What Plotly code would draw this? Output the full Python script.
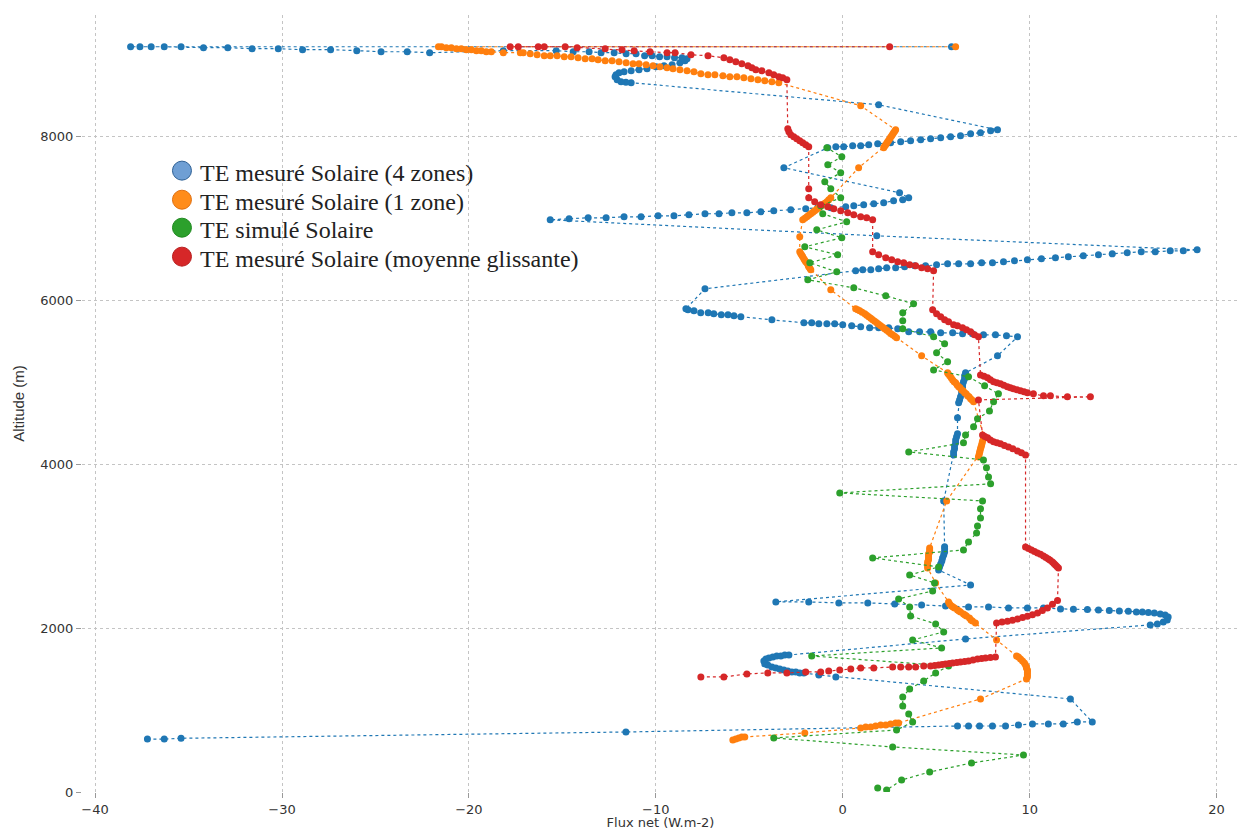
import plotly.graph_objects as go

# ---------------- data (flux W.m-2, altitude m) ----------------
blue_flux = [-37.2, -36.3, -35.4, -11.6, 6.14, 6.73, 7.32, 8.01, 8.71, 9.40, 10.15, 11.0, 11.8, 12.55, 13.35, 12.18, -0.37, -1.28,
             -2.08, -2.30, -2.51, -2.72, -2.94, -3.15, -3.37, -3.58, -3.79, -4.01, -4.17, -4.22, -4.11, -3.95, -3.74, -3.53, -3.31, -3.10, -2.88,
             6.57,
             16.45, 16.83, 17.15, 17.36, 17.41, 17.25, 16.99, 16.67, 16.35, 16.03, 15.71, 15.28, 14.8, 14.26, 13.68, 13.09, 12.34, 11.65, 10.74,
             9.88, 8.87, 7.8, 6.73, 5.5, 4.22, 2.78, 1.34, -0.21, -1.82, -3.58,
             6.84,
             5.13, 5.18, 5.24, 5.3, 5.34, 5.4, 5.45, 5.45, 5.45,
             5.4,
             5.93, 5.93, 5.98, 5.98, 6.04, 6.04, 6.09, 6.14,
             6.14,
             6.2, 6.25, 6.3, 6.36, 6.36, 6.41, 6.41, 6.46, 6.52, 6.52, 6.57,
             8.28,
             9.35, 8.76, 8.17, 7.53, 6.94, 6.41, 5.88, 5.24, 4.70, 4.11, 3.53, 2.94, 2.46, 1.92, 1.44, 0.96, 0.48, 0.0, -0.43, -0.85, -1.28, -1.66, -2.08,
             -3.79,
             -5.45, -5.82, -6.14, -6.5, -6.9, -7.2, -7.6, -7.96, -8.28, -8.39,
             -7.37,
             0.69, 1.07, 1.5, 1.92, 2.35, 2.83, 3.31, 3.85, 4.43, 5.02, 5.61, 6.2, 6.84, 7.43, 8.01, 8.6, 9.19, 9.88, 10.63, 11.38,
             12.07, 12.87, 13.68, 14.42, 15.22, 15.97, 16.72, 17.52, 18.22, 18.96,
             1.82, -15.65,
             -14.64, -13.62, -12.66, -11.7, -10.79, -9.88, -9.03, -8.23, -7.37, -6.62, -5.93, -5.13, -4.38, -3.69, -2.78, -1.98, -1.34, -0.64,
             0.16, 0.59, 1.12, 1.66, 2.19, 2.72, 3.21, 3.53, 3.04,
             -3.15,
             -0.8, -0.37, 0.05, 0.53, 0.96, 1.39, 1.87, 2.56, 3.1, 3.63, 4.17, 4.7, 5.24, 5.77, 6.3, 6.84, 7.37, 7.91, 8.28,
             1.92,
             -11.32, -11.6, -11.86, -12.07, -12.18, -12.13, -11.97, -11.7, -11.32, -10.9, -10.47, -9.99, -9.56, -9.13, -8.71, -8.44, -8.33,
             -8.6, -9.0, -9.4, -9.8, -10.2, -10.6,
             -11.06, -11.59, -12.23, -12.93, -13.57, -14.42, -15.33, -18.16,
             -22.1, -23.3, -24.7, -26.0, -27.4, -28.9, -30.2, -31.6, -32.9, -34.2, -35.4, -36.3, -37.0, -37.6, -38.1,
             5.82]
blue_alt = [645, 645, 655, 732, 805, 805, 805, 805, 805, 818, 830, 830, 830, 854, 854, 1135, 1403, 1427,
            1452, 1452, 1464, 1464, 1476, 1488, 1501, 1513, 1525, 1549, 1562, 1598, 1623, 1635, 1647, 1659, 1659, 1671, 1671,
            1867,
            2037, 2050, 2074, 2098, 2135, 2159, 2172, 2184, 2190, 2196, 2196, 2203, 2208, 2214, 2220, 2226, 2230, 2233, 2245,
            2245, 2245, 2257, 2257, 2269, 2281, 2294, 2306, 2306, 2318, 2318,
            2525,
            2708, 2745, 2782, 2818, 2855, 2891, 2928, 2965, 2990,
            3550,
            4111, 4148, 4185, 4221, 4258, 4294, 4331, 4368,
            4563,
            4746, 4782, 4819, 4856, 4892, 4929, 4965, 5002, 5039, 5075, 5112,
            5319,
            5551, 5563, 5575, 5575, 5588, 5588, 5600, 5600, 5612, 5612, 5612, 5649, 5661, 5661, 5661, 5673, 5685, 5697, 5710, 5710, 5710, 5722, 5722,
            5758,
            5795, 5807, 5819, 5819, 5832, 5844, 5844, 5868, 5880, 5893,
            6137,
            6356, 6368, 6368, 6380, 6393, 6393, 6405, 6417, 6417, 6429, 6441, 6441, 6441, 6454, 6454, 6466, 6478, 6490, 6502, 6515,
            6527, 6539, 6551, 6563, 6576, 6588, 6588, 6600, 6600, 6612,
            6783, 6978,
            6991, 7003, 7003, 7015, 7015, 7027, 7027, 7039, 7052, 7052, 7064, 7064, 7076, 7088, 7100, 7113, 7125, 7125,
            7137, 7149, 7161, 7174, 7186, 7210, 7222, 7247, 7308,
            7613,
            7857, 7869, 7869, 7881, 7881, 7893, 7906, 7918, 7930, 7942, 7954, 7967, 7979, 7991, 8003, 8028, 8040, 8064, 8076,
            8381,
            8650, 8656, 8662, 8686, 8723, 8747, 8772, 8784, 8796, 8808, 8821, 8845, 8857, 8869, 8894, 8918, 8943,
            8955, 8955, 8967, 8967, 8980, 8980,
            9004, 9004, 9016, 9016, 9028, 9028, 9041, 9041,
            9016, 9028, 9028, 9041, 9053, 9053, 9065, 9065, 9077, 9077, 9089, 9089, 9089, 9089, 9089,
            9089]

orange_flux = [-5.88, -5.72, -5.56, -5.4, -5.24, -2.03, 0.96, 1.23, 1.5, 1.76, 2.03, 2.3, 2.56, 2.83, 2.99, 7.37,
               9.83, 9.88, 9.88, 9.88, 9.88, 9.88, 9.83, 9.83, 9.78, 9.72, 9.62, 9.51, 9.4, 9.3,
               8.23,
               7.1, 6.94, 6.86, 6.78, 6.62, 6.54, 6.46, 6.3, 6.22, 6.14, 5.98, 5.9, 5.82, 5.72, 5.66,
               4.97,
               4.54, 4.54, 4.54, 4.54, 4.59, 4.59, 4.59, 4.59, 4.65, 4.65, 4.65,
               5.56,
               7.26, 7.29, 7.32, 7.34, 7.37, 7.4, 7.43, 7.46, 7.48, 7.53, 7.56,
               7.0, 6.92, 6.84, 6.76, 6.68, 6.6, 6.52, 6.44, 6.36, 6.28, 6.2, 6.12, 6.04, 5.96, 5.88, 5.8, 5.72, 5.64, 5.61,
               4.22,
               2.88, 2.78, 2.67, 2.56, 2.46, 2.35, 2.24, 2.14, 2.03, 1.92, 1.82, 1.71, 1.6, 1.5, 1.39, 1.28, 1.18, 1.04, 0.91, 0.8, 0.69,
               -0.64,
               -1.71, -1.76, -1.82, -1.85, -1.87, -1.92, -1.98, -2.03, -2.08, -2.14, -2.19, -2.24, -2.3,
               -2.3,
               -2.14, -2.03, -1.92, -1.82, -1.71, -1.6, -1.5, -1.39, -1.28, -1.18, -1.07, -0.96, -0.85, -0.75, -0.64,
               0.85,
               2.19, 2.24, 2.3, 2.35, 2.4, 2.46, 2.51, 2.56, 2.62, 2.67, 2.72, 2.78, 2.83,
               0.96,
               -3.42, -3.79, -4.17, -4.54, -4.91, -5.29, -5.66, -6.04, -6.41, -6.84, -7.21, -7.59, -7.96, -8.33, -8.71, -9.08, -9.4, -9.78,
               -10.15, -10.52, -10.9, -11.22, -11.59, -11.97, -12.34, -12.71, -13.09, -13.41, -13.78, -14.16, -14.53, -14.9, -15.28, -15.65,
               -15.97, -16.35, -16.72, -17.09, -17.25,
               -18.16,
               -18.8, -19.07, -19.34, -19.6, -19.87, -20.14, -20.41, -20.67, -20.94, -21.21, -21.47, -21.63,
               6.04]
orange_alt = [634, 647, 659, 671, 671, 720, 781, 793, 793, 805, 817, 817, 830, 842, 842, 1135,
              1379, 1403, 1427, 1452, 1476, 1488, 1513, 1525, 1549, 1574, 1598, 1623, 1647, 1659,
              1854,
              2062, 2086, 2098, 2123, 2147, 2159, 2172, 2196, 2208, 2220, 2245, 2257, 2269, 2294, 2318,
              2550,
              2733, 2757, 2782, 2806, 2831, 2855, 2879, 2904, 2928, 2952, 2977,
              3550,
              4087, 4111, 4136, 4160, 4185, 4209, 4233, 4258, 4282, 4307, 4331,
              4758, 4782, 4795, 4819, 4831, 4856, 4868, 4892, 4904, 4929, 4941, 4965, 4990, 5002, 5026, 5051, 5075, 5100, 5112,
              5319,
              5539, 5557, 5575, 5593, 5612, 5630, 5649, 5667, 5685, 5703, 5722, 5740, 5758, 5777, 5795, 5813, 5832, 5850, 5868, 5880, 5893,
              6124,
              6368, 6386, 6405, 6423, 6442, 6454, 6466, 6485, 6503, 6527, 6545, 6564, 6588,
              6771,
              6978, 6997, 7015, 7033, 7052, 7070, 7088, 7106, 7125, 7143, 7161, 7180, 7198, 7222, 7247,
              7613,
              7857, 7875, 7893, 7912, 7930, 7948, 7967, 7985, 8003, 8021, 8040, 8058, 8076,
              8369,
              8650, 8662, 8674, 8686, 8699, 8711, 8723, 8723, 8735, 8747, 8747, 8760, 8784, 8796, 8808, 8821, 8833, 8845,
              8857, 8869, 8882, 8882, 8894, 8906, 8918, 8918, 8930, 8943, 8943, 8955, 8967, 8967, 8979, 8979,
              8979, 8991, 9004, 9016, 9016,
              9016,
              9028, 9028, 9040, 9040, 9052, 9052, 9065, 9065, 9077, 9077, 9089, 9089,
              9089]

green_flux = [1.87, 2.35, 3.15, 4.65, 6.89, 9.67, 2.67, -3.69, 2.88, 3.74, 3.53, 3.21, 3.21, 3.58, 4.33, 4.97, 5.66, -1.66, 5.29, 3.74,
              5.4, 4.97, 3.63, 3.58, 2.99, 4.81, 4.91, 3.58, 5.13, 1.6, 6.46, 6.73, 7.16, 7.21, 7.37, 7.37, 7.48, -0.16, 7.91, 7.8,
              7.69, 7.53, 3.53, 6.46, 6.57, 7.0, 7.21, 7.85, 8.07, 8.33, 7.59, 6.73, 4.86, 5.61, 5.02, 5.45, 4.86, 3.21, 3.21, 3.21,
              3.79, 2.3, 0.59, -1.87, -0.32, -1.76, -0.27, -2.03, -0.05, -1.39, 0.21, -1.07, -1.18, -0.11, -0.64, -0.96, -0.11, -0.8,
              -0.05, -0.85]
green_alt = [49, 24, 146, 244, 354, 451, 549, 659, 756, 854, 952, 1049, 1159, 1257, 1354, 1452, 1537, 1659, 1757, 1854,
             1952, 2050, 2147, 2257, 2355, 2452, 2550, 2647, 2745, 2855, 2952, 3050, 3160, 3245, 3343, 3453, 3550, 3648, 3758, 3843,
             3953, 4050, 4148, 4258, 4355, 4453, 4551, 4648, 4758, 4856, 4953, 5063, 5148, 5246, 5356, 5466, 5551, 5649, 5746, 5844,
             5954, 6051, 6149, 6246, 6344, 6454, 6551, 6649, 6759, 6856, 6954, 7052, 7149, 7247, 7357, 7442, 7552, 7649,
             7747, 7857]

red_flux = [-7.59, -6.36, -5.13, -4.01, -2.99, -1.98, -1.18, -0.75, -0.16, 0.43, 0.96, 1.66, 2.67, 3.1, 3.53, 3.9, 4.33, 4.7, 4.92, 5.13,
            5.32, 5.5, 5.7, 5.88, 6.1, 6.3, 6.52, 6.73, 6.97, 7.21, 7.43, 7.64, 7.9, 8.17,
            8.23, 8.52, 8.81, 9.08, 9.35, 9.62, 9.88, 10.15, 10.42, 10.68, 10.95, 11.22, 11.49,
            11.54, 11.46, 11.38, 11.3, 11.22, 11.1, 11.0, 10.87, 10.74, 10.58, 10.42, 10.26, 10.1, 9.94, 9.78,
            9.78, 9.56, 9.35, 9.1, 8.87, 8.65, 8.44, 8.25, 8.07, 7.9, 7.75, 7.6, 7.48,
            7.26, 13.25, 12.02, 11.11, 10.74, 10.2,
            9.88, 9.7, 9.51, 9.32, 9.13, 8.97, 8.81, 8.62, 8.44, 8.25, 8.07, 7.9, 7.75, 7.56, 7.37,
            7.26, 7.05, 6.84, 6.62, 6.41, 6.14, 5.93, 5.66, 5.45, 5.24, 5.02, 4.81,
            4.86, 4.54, 4.22, 3.9, 3.58, 3.26, 2.94, 2.62, 2.3, 1.92, 1.6,
            1.6, 1.28, 0.96, 0.59, 0.27, -0.11, -0.48, -0.8, -1.18, -1.5, -1.82,
            -1.82,
            -1.82, -1.98, -2.14, -2.3, -2.46, -2.62, -2.78, -2.88, -2.94,
            -2.99, -3.21, -3.42, -3.69, -3.95, -4.33, -4.65, -4.86, -5.07, -5.4, -5.72, -6.04, -6.36, -7.21, -8.12, -8.97, -9.4,
            -10.31, -11.16, -11.81, -12.71, -14.21, -14.85, -15.97, -16.29, -17.36, -17.79,
            2.51]
red_alt = [1403, 1403, 1440, 1452, 1452, 1464, 1464, 1476, 1488, 1501, 1513, 1513, 1525, 1525, 1525, 1525, 1537, 1537, 1543, 1549,
           1555, 1562, 1568, 1574, 1580, 1586, 1592, 1598, 1610, 1623, 1629, 1635, 1641, 1647,
           2062, 2072, 2082, 2096, 2111, 2127, 2143, 2163, 2184, 2214, 2245, 2290, 2334,
           2733, 2751, 2769, 2788, 2806, 2825, 2843, 2861, 2879, 2898, 2916, 2934, 2952, 2971, 2989,
           4111, 4136, 4160, 4185, 4209, 4227, 4246, 4258, 4270, 4294, 4319, 4337, 4355,
           4782, 4819, 4819, 4831, 4831, 4856,
           4868, 4880, 4892, 4905, 4917, 4929, 4941, 4960, 4978, 4990, 5002, 5027, 5051, 5069, 5087,
           5551, 5575, 5612, 5636, 5661, 5685, 5697, 5734, 5758, 5795, 5832, 5880,
           6356, 6381, 6393, 6417, 6429, 6454, 6466, 6490, 6515, 6551, 6588,
           6978, 7003, 7015, 7039, 7064, 7088, 7113, 7137, 7161, 7198, 7247,
           7357,
           7869, 7893, 7918, 7942, 7967, 7991, 8015, 8052, 8089,
           8686, 8711, 8723, 8747, 8772, 8796, 8808, 8833, 8857, 8882, 8906, 8930, 8955, 8979, 8991, 9016, 9016,
           9028, 9040, 9052, 9065, 9077, 9089, 9089, 9089, 9089, 9089,
           9089]

series_names = ["TE mesuré Solaire (4 zones)", "TE mesuré Solaire (1 zone)",
                "TE simulé Solaire", "TE mesuré Solaire (moyenne glissante)"]
x_ticks = [-40, -30, -20, -10, 0, 10, 20]
y_ticks = [0, 2000, 4000, 6000, 8000]

for a, b in [(blue_flux, blue_alt), (orange_flux, orange_alt), (green_flux, green_alt), (red_flux, red_alt)]:
    assert len(a) == len(b), (len(a), len(b))

colors = ["#1f77b4", "#ff7f0e", "#2ca02c", "#d62728"]
legend_fill = ["#6f9fd4", "#ff8c1a", "#2ca02c", "#d62728"]
legend_edge = ["#2c5f94", "#e07010", "#1f8a1f", "#b81f1f"]

fig = go.Figure()
for xs, ys, c in zip([blue_flux, orange_flux, green_flux, red_flux],
                     [blue_alt, orange_alt, green_alt, red_alt], colors):
    fig.add_trace(go.Scatter(x=xs, y=ys, mode="lines+markers", showlegend=False,
                             line=dict(color=c, width=1.2, dash="dot"),
                             marker=dict(color=c, size=7, line=dict(width=0))))

# legend drawn as paper-anchored circles + text (matches the original legend spacing)
leg_x_sym = 0.0864      # paper x of symbol centres
leg_x_txt = 0.1005      # paper x of text start
leg_y = [0.7967, 0.7593, 0.7233, 0.6860]
shapes = []
annotations = []
for name, fc, ec, yy in zip(series_names, legend_fill, legend_edge, leg_y):
    shapes.append(dict(type="circle", xref="paper", yref="paper", xsizemode="pixel", ysizemode="pixel",
                       xanchor=leg_x_sym, yanchor=yy + 0.003, x0=-9.5, x1=9.5, y0=-9.5, y1=9.5,
                       fillcolor=fc, line=dict(color=ec, width=1)))
    annotations.append(dict(x=leg_x_txt, y=yy, xref="paper", yref="paper", xanchor="left", yanchor="middle",
                            text=name, showarrow=False,
                            font=dict(family="Liberation Serif", size=24, color="#222222")))

grid = dict(showgrid=True, gridcolor="#c4c4c4", gridwidth=1, griddash="dot",
            zeroline=False, showline=False, ticks="outside", ticklen=5, automargin=False,
            tickcolor="#999999", tickfont=dict(family="DejaVu Sans", size=13, color="#333333"))
fig.update_xaxes(range=[-40.7, 21.2], tickvals=x_ticks,
                 title=dict(text="Flux net (W.m-2)", font=dict(family="DejaVu Sans", size=13, color="#333333"), standoff=2),
                 **grid)
fig.update_yaxes(range=[0, 9476], tickvals=y_ticks,
                 title=dict(text="Altitude (m)", font=dict(family="Liberation Sans", size=15, color="#333333"), standoff=12),
                 **grid)
fig.update_layout(
    width=1237, height=822,
    margin=dict(l=74, r=6, t=7, b=38),
    plot_bgcolor="white", paper_bgcolor="white",
    showlegend=False,
    shapes=shapes, annotations=annotations,
)
fig.write_html("out.html")
